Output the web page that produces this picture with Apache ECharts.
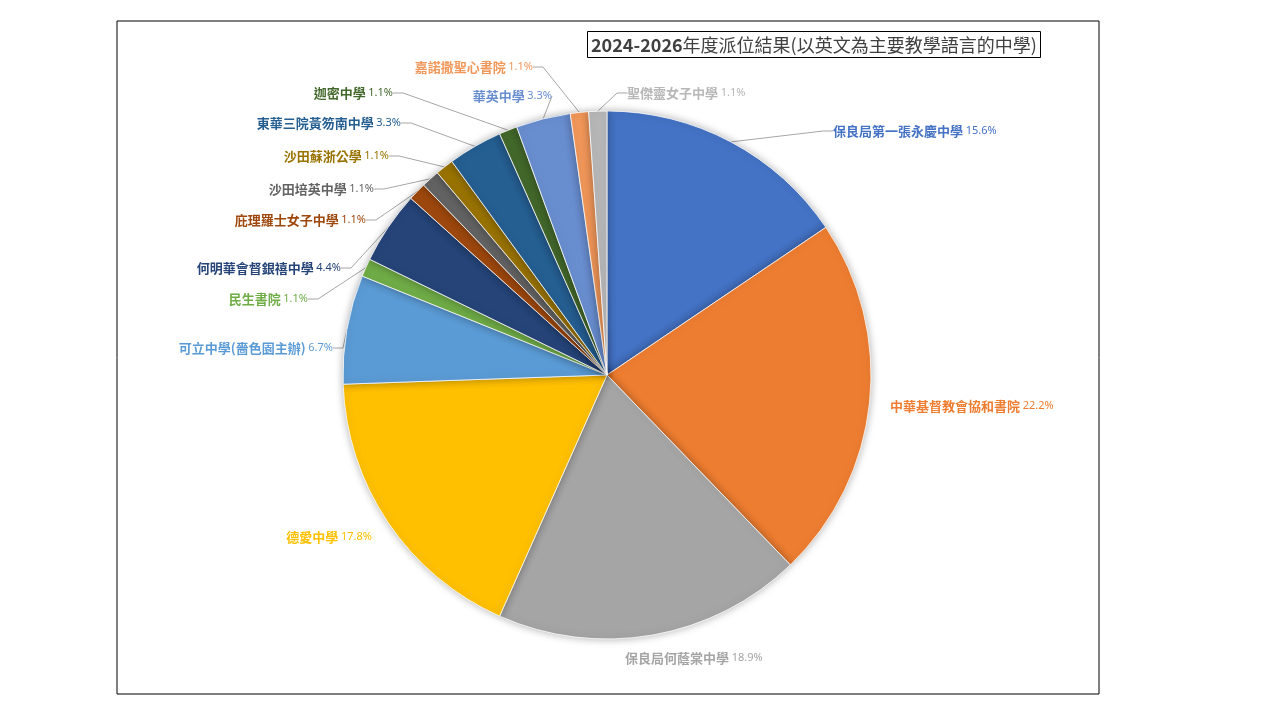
<!DOCTYPE html>
<html>
<head>
<meta charset="utf-8">
<script src="https://cdn.jsdelivr.net/npm/echarts@6/dist/echarts.min.js"></script>
<style>
	html, body { margin: 0; padding: 0; background: #fff; }
	#pieChart { width: 1280px; height: 720px; }
</style>
</head>
<body>
<div id="pieChart"></div>
<script>
var chartTitle = '2024-2026年度派位結果(以英文為主要教學語言的中學)';
var schools = [ '保良局第一張永慶中學', '中華基督教會協和書院', '保良局何蔭棠中學', '德愛中學',
	'可立中學(嗇色園主辦)', '民生書院', '何明華會督銀禧中學', '庇理羅士女子中學', '沙田培英中學',
	'沙田蘇浙公學', '東華三院黃笏南中學', '迦密中學', '華英中學', '嘉諾撒聖心書院', '聖傑靈女子中學' ];
var counts = [ 14, 20, 17, 16, 6, 1, 4, 1, 1, 1, 3, 1, 3, 1, 1 ];

// office 調色
var colors = [ '#4472C4', '#ED7D31', '#A5A5A5', '#FFC000', '#5B9BD5', '#70AD47', '#264478',
	'#9E480E', '#636363', '#997300', '#255E91', '#43682B', '#698ED0', '#F1975A', '#B7B7B7' ];
// 標籤位置 [x, y, 對齊]
var labelSpots = [ [ 833, 131, 'left' ], [ 890, 406, 'left' ], [ 625, 658, 'left' ],
	[ 372, 537, 'right' ], [ 333, 348, 'right' ], [ 308, 299, 'right' ], [ 341, 268, 'right' ],
	[ 366, 220, 'right' ], [ 374, 189, 'right' ], [ 389, 156, 'right' ], [ 401, 123, 'right' ],
	[ 393, 93, 'right' ], [ 552, 96, 'right' ], [ 533, 67, 'right' ], [ 627, 93, 'left' ] ];
var noLine = [ 1, 2, 3 ];

var total = counts.reduce(function(a, b) { return a + b; }, 0);

var pieData = schools.map(function(name, i) {
	return {
		name : name,
		value : counts[i],
		itemStyle : { color : colors[i] },
		label : { color : colors[i] },
		labelLine : { show : noLine.indexOf(i) < 0 }
	};
});

var myChart = echarts.init(document.getElementById('pieChart'));
var option = {
	animation : false,
	graphic : [ {
		type : 'rect',
		shape : { x : 117, y : 21, width : 982, height : 673 },
		style : { fill : 'none', stroke : '#000', lineWidth : 1 },
		silent : true
	} ],
	title : {
		text : '{b|2024-2026}' + chartTitle.slice(9),
		left : 587,
		top : 31,
		padding : [ 5, 4, 4, 4 ],
		borderColor : '#000',
		borderWidth : 1,
		textStyle : {
			fontFamily : 'Noto Sans CJK TC',
			fontSize : 18,
			fontWeight : 'normal',
			color : '#404040',
			rich : {
				b : { fontFamily : 'Noto Sans CJK TC', fontSize : 18, fontWeight : 'bold', color : '#404040' }
			}
		}
	},
	series : [ {
		type : 'pie',
		center : [ 607, 375 ],
		radius : 264,
		startAngle : 90,
		clockwise : true,
		data : pieData,
		itemStyle : {
			borderColor : '#fff',
			borderWidth : 0.8,
			shadowBlur : 8,
			shadowColor : 'rgba(0,0,0,0.3)'
		},
		label : {
			show : true,
			position : 'outside',
			fontFamily : 'Noto Sans CJK TC',
			formatter : function(p) {
				return '{n|' + p.name + '} {p|' + (p.value / total * 100).toFixed(1) + '%}';
			},
			rich : {
				n : { fontFamily : 'Noto Sans CJK TC', fontSize : 13, fontWeight : 'bold' },
				p : { fontFamily : 'Noto Sans', fontSize : 11 }
			}
		},
		labelLine : {
			length : 10,
			length2 : 10,
			lineStyle : { color : '#A6A6A6', width : 1 }
		},
		labelLayout : function(params) {
			var s = labelSpots[params.dataIndex];
			return { x : s[0], y : s[1], align : s[2], verticalAlign : 'middle', hideOverlap : false };
		}
	} ]
};
myChart.setOption(option);
</script>
</body>
</html>
